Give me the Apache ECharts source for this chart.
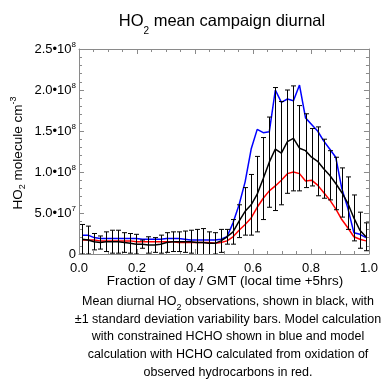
<!DOCTYPE html>
<html><head><meta charset="utf-8">
<script src="https://cdn.jsdelivr.net/npm/echarts@6/dist/echarts.min.js"></script>
<style>html,body{margin:0;padding:0;background:#fff}#c{width:381px;height:379px}</style>
</head><body><div id="c"></div>
<script>
// values in units of 1e8 molecule cm^-3
const UNIT = 1e8;
const nBins = 48; // half-hour bins, plotted at bin centres
const timeFrac = Array.from({length: nBins}, (_, i) => (i + 0.5) / nBins);

const obsMean = [0.18,0.17,0.15,0.14,0.15,0.15,0.15,0.14,0.13,0.12,0.12,0.11,0.11,0.12,0.14,0.15,
  0.15,0.15,0.15,0.14,0.14,0.13,0.13,0.16,0.21,0.27,0.40,0.52,0.60,0.73,0.92,1.12,
  1.28,1.23,1.37,1.41,1.29,1.26,1.18,1.13,1.04,0.96,0.86,0.75,0.62,0.44,0.29,0.21];
const obsSd = [0.18,0.17,0.10,0.08,0.12,0.14,0.14,0.12,0.12,0.12,0.05,0.10,0.09,0.11,0.12,0.12,
  0.12,0.13,0.14,0.16,0.17,0.14,0.13,0.14,0.09,0.15,0.20,0.29,0.37,0.46,0.50,0.55,
  0.75,0.63,0.63,0.64,0.52,0.45,0.35,0.42,0.36,0.30,0.32,0.30,0.32,0.28,0.22,0.17];
const modelConstrainedHCHO = [0.23,0.23,0.20,0.19,0.19,0.19,0.19,0.19,0.19,0.19,0.18,0.18,0.18,0.18,0.19,0.19,
  0.19,0.18,0.17,0.17,0.17,0.17,0.17,0.18,0.21,0.38,0.60,0.88,1.28,1.52,1.48,1.49,
  2.00,1.85,1.89,1.87,2.06,1.66,1.58,1.50,1.38,1.28,1.18,0.80,0.56,0.26,0.24,0.20];
const modelCalculatedHCHO = [0.17,0.17,0.17,0.16,0.16,0.16,0.16,0.16,0.16,0.15,0.15,0.15,0.15,0.15,0.15,0.15,
  0.14,0.14,0.14,0.14,0.14,0.14,0.13,0.14,0.16,0.21,0.29,0.36,0.44,0.57,0.68,0.77,
  0.83,0.90,0.98,1.00,0.98,0.89,0.90,0.84,0.75,0.66,0.55,0.42,0.32,0.21,0.18,0.16];

const xTickLabels = ['0.0','0.2','0.4','0.6','0.8','1.0'];
const yTickLabels = [['0',''],['5.0•10','7'],['1.0•10','8'],['1.5•10','8'],['2.0•10','8'],['2.5•10','8']];

const FONT = '"Liberation Sans", Arial, Helvetica, sans-serif';
const AXC = '#8a8a8a';

const chart = echarts.init(document.getElementById('c'), null, {renderer: 'canvas'});

function pairs(arr) { return arr.map((v, i) => [timeFrac[i], v * UNIT]); }
const errData = obsMean.map((m, i) => [timeFrac[i], (m - obsSd[i]) * UNIT, (m + obsSd[i]) * UNIT]);

const xBase = {
  type: 'value', min: 0, max: 1, interval: 0.2,
  axisLine: {show: true, onZero: false, lineStyle: {color: AXC, width: 1}},
  axisTick: {show: true, inside: true, length: 5, lineStyle: {color: AXC}},
  minorTick: {show: true, splitNumber: 4, length: 3, lineStyle: {color: AXC}},
  splitLine: {show: false}, minorSplitLine: {show: false}
};
const yBase = {
  type: 'value', min: 0, max: 2.5 * UNIT, interval: 0.5 * UNIT,
  axisLine: {show: true, onZero: false, lineStyle: {color: AXC, width: 1}},
  axisTick: {show: true, inside: true, length: 5, lineStyle: {color: AXC}},
  minorTick: {show: true, splitNumber: 5, length: 3, lineStyle: {color: AXC}},
  splitLine: {show: false}, minorSplitLine: {show: false}
};

const option = {
  backgroundColor: '#fff',
  animation: false,
  grid: {left: 79, right: 10, top: 49, bottom: 125, containLabel: false},
  xAxis: [
    Object.assign({}, xBase, {position: 'bottom',
      axisLabel: {show: true, margin: 8, fontSize: 13, fontFamily: FONT, color: '#000',
        formatter: v => xTickLabels[Math.round(v / 0.2)]}}),
    Object.assign({}, xBase, {position: 'top', axisLabel: {show: false}})
  ],
  yAxis: [
    Object.assign({}, yBase, {position: 'left',
      axisLabel: {show: true, margin: 3, fontFamily: FONT, color: '#000',
        formatter: v => {
          const t = yTickLabels[Math.round(v / (0.5 * UNIT))];
          return t[1] ? '{n|' + t[0] + '}{p|' + t[1] + '}' : '{n|' + t[0] + '}';
        },
        rich: {
          n: {fontSize: 13, fontFamily: FONT, color: '#000', lineHeight: 16, verticalAlign: 'middle'},
          p: {fontSize: 8, fontFamily: FONT, color: '#000', lineHeight: 6, verticalAlign: 'top'}
        }}}),
    Object.assign({}, yBase, {position: 'right', axisLabel: {show: false}})
  ],
  series: [
    {type: 'line', name: 'model constrained HCHO', data: pairs(modelConstrainedHCHO), showSymbol: false,
      lineStyle: {color: '#0000ff', width: 1.5}, z: 2},
    {type: 'line', name: 'model calculated HCHO', data: pairs(modelCalculatedHCHO), showSymbol: false,
      lineStyle: {color: '#ff0000', width: 1.5}, z: 2},
    {type: 'custom', name: 'sd', data: errData, clip: true, z: 3,
      encode: {x: 0, y: [1, 2]},
      renderItem: (params, api) => {
        const x = api.value(0);
        const a = api.coord([x, api.value(1)]);
        const b = api.coord([x, api.value(2)]);
        const px = Math.round(a[0]) + 0.5;
        const w = 2.5;
        const st = {stroke: '#000', lineWidth: 1};
        return {type: 'group', children: [
          {type: 'line', shape: {x1: px, y1: a[1], x2: px, y2: b[1]}, style: st},
          {type: 'line', shape: {x1: px - w, y1: a[1], x2: px + w, y2: a[1]}, style: st},
          {type: 'line', shape: {x1: px - w, y1: b[1], x2: px + w, y2: b[1]}, style: st}
        ]};
      }},
    {type: 'line', name: 'observed', data: pairs(obsMean), showSymbol: false,
      lineStyle: {color: '#000', width: 1.5}, z: 4}
  ],
  graphic: [
    {type: 'text', x: 222, y: 21, style: {
      text: '{a|HO}{s|2}{a| mean campaign diurnal}', align: 'center', verticalAlign: 'middle',
      rich: {a: {fontSize: 16.5, fontFamily: FONT, fill: '#000', lineHeight: 30, verticalAlign: 'middle'},
             s: {fontSize: 10, fontFamily: FONT, fill: '#000', lineHeight: 10, verticalAlign: 'bottom'}}}},
    {type: 'text', x: 18, y: 153, rotation: Math.PI / 2, style: {
      text: '{a|HO}{s|2}{a| molecule cm}{p|-3}', align: 'center', verticalAlign: 'middle',
      rich: {a: {fontSize: 13.5, fontFamily: FONT, fill: '#000', lineHeight: 18, verticalAlign: 'middle'},
             s: {fontSize: 9, fontFamily: FONT, fill: '#000', lineHeight: 8, verticalAlign: 'bottom'},
             p: {fontSize: 9, fontFamily: FONT, fill: '#000', lineHeight: 8, verticalAlign: 'top'}}}},
    {type: 'text', x: 225, y: 281, style: {
      text: 'Fraction of day / GMT (local time +5hrs)', align: 'center', verticalAlign: 'middle',
      font: '13.4px ' + FONT, fill: '#000'}},
    {type: 'text', x: 228, y: 302, style: {
      text: '{a|Mean diurnal HO}{s|2}{a| observations, shown in black, with}', align: 'center', verticalAlign: 'middle',
      rich: {a: {fontSize: 12.5, fontFamily: FONT, fill: '#000', lineHeight: 20, verticalAlign: 'middle'},
             s: {fontSize: 9, fontFamily: FONT, fill: '#000', lineHeight: 8, verticalAlign: 'bottom'}}}},
    {type: 'text', x: 228, y: 320, style: {
      text: '±1 standard deviation variability bars. Model calculation', align: 'center', verticalAlign: 'middle',
      font: '12.5px ' + FONT, fill: '#000'}},
    {type: 'text', x: 228, y: 337, style: {
      text: 'with constrained HCHO shown in blue and model', align: 'center', verticalAlign: 'middle',
      font: '12.5px ' + FONT, fill: '#000'}},
    {type: 'text', x: 228, y: 355, style: {
      text: 'calculation with HCHO calculated from oxidation of', align: 'center', verticalAlign: 'middle',
      font: '12.5px ' + FONT, fill: '#000'}},
    {type: 'text', x: 228, y: 373, style: {
      text: 'observed hydrocarbons in red.', align: 'center', verticalAlign: 'middle',
      font: '12.5px ' + FONT, fill: '#000'}}
  ]
};
chart.setOption(option);
</script>
</body></html>
